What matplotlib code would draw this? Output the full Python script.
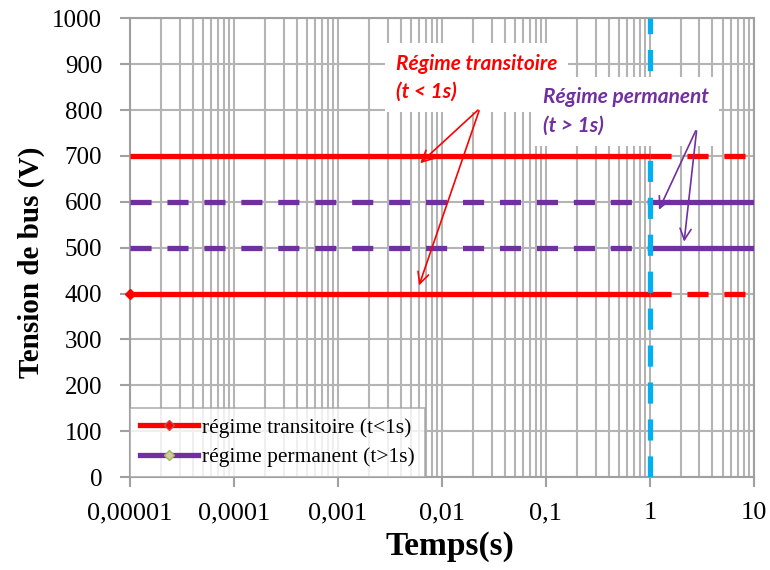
import numpy as np
import matplotlib.pyplot as plt
from matplotlib.ticker import FixedLocator, LogLocator, NullFormatter

# time ranges (s)
t_trans = [1e-5, 1]
t_perm = [1, 10]

# bus voltage levels (V)
red_high = 700
red_low = 400
purple_high = 600
purple_low = 500

x_ticks = [1e-5, 1e-4, 1e-3, 1e-2, 1e-1, 1, 10]
x_labels = ["0,00001", "0,0001", "0,001", "0,01", "0,1", "1", "10"]
y_ticks = list(range(0, 1001, 100))

RED = "#ff0000"
PURPLE = "#7030a0"
BLUE = "#00b0f0"
GRID = "#b4b4b4"

plt.rcParams["font.family"] = ["Liberation Serif", "DejaVu Serif"]

fig = plt.figure(figsize=(7.7, 5.7), dpi=100)
ax = fig.add_axes([0.169, 0.163, 0.81, 0.805])

ax.set_xscale("log")
ax.set_xlim(1e-5, 10)
ax.set_ylim(0, 1000)

ax.xaxis.set_major_locator(FixedLocator(x_ticks))
ax.set_xticklabels(x_labels)
ax.xaxis.set_minor_locator(LogLocator(base=10, subs=np.arange(2, 10)))
ax.xaxis.set_minor_formatter(NullFormatter())
ax.set_yticks(y_ticks)

ax.grid(True, which="major", color=GRID, lw=1.5)
ax.grid(True, which="minor", axis="x", color=GRID, lw=1.5)
ax.set_axisbelow(True)

for side in ["left", "bottom", "right", "top"]:
    ax.spines[side].set_color("#a0a0a0")
    ax.spines[side].set_linewidth(1.5)
ax.tick_params(axis="both", which="major", length=7, width=1.5, color="#a0a0a0",
               direction="out")
ax.tick_params(axis="x", which="major", pad=11, labelsize=19)
ax.tick_params(axis="y", which="major", pad=13, labelsize=18)
ax.tick_params(axis="x", which="minor", length=0)

lw = 3.8
dash = (0, (4, 3))

# red series
ax.plot(t_trans, [red_high] * 2, color=RED, lw=lw, solid_capstyle="butt", zorder=3)
ax.plot(t_perm, [red_high] * 2, color=RED, lw=lw, ls=dash, zorder=3)
ax.plot(t_trans, [red_low] * 2, color=RED, lw=lw, solid_capstyle="butt", zorder=3)
ax.plot(t_perm, [red_low] * 2, color=RED, lw=lw, ls=dash, zorder=3)
ax.plot([t_trans[0]], [red_low], marker="D", color=RED, ms=5, clip_on=False, zorder=4)

# purple series
ax.plot(t_trans, [purple_high] * 2, color=PURPLE, lw=lw, ls=dash, zorder=3)
ax.plot(t_perm, [purple_high] * 2, color=PURPLE, lw=lw, solid_capstyle="butt", zorder=3)
ax.plot(t_trans, [purple_low] * 2, color=PURPLE, lw=lw, ls=dash, zorder=3)
ax.plot(t_perm, [purple_low] * 2, color=PURPLE, lw=lw, solid_capstyle="butt", zorder=3)

# switching instant
ax.axvline(1, color=BLUE, lw=3.8, ls=(0, (4, 3)), zorder=4)

# legend proxies
ax.plot([], [], color=RED, lw=lw, marker="D", ms=5.5, mfc=RED, mec="#c0504d",
        label="régime transitoire (t<1s)")
ax.plot([], [], color=PURPLE, lw=lw, marker="D", ms=5.5, mfc="#d9c9a3", mec="#9bbb59",
        label="régime permanent (t>1s)")
leg = ax.legend(loc="lower left", fontsize=15.5, frameon=True, fancybox=False,
                borderaxespad=0, handlelength=2.7, labelspacing=0.45,
                borderpad=0.45, handletextpad=0.2)
leg.get_frame().set_edgecolor("#a0a0a0")
leg.get_frame().set_linewidth(1.2)
leg.set_zorder(6)

# annotations
box = dict(boxstyle="square,pad=0.5", fc="white", ec="none")
ann_font = dict(family=["Lato", "DejaVu Sans"], weight="bold", style="italic", fontsize=15)

ax.text(0.0036, 870, "Régime transitoire\n(t < 1s)", color=RED, ha="left", va="center",
        linespacing=1.5, bbox=box, zorder=5, **ann_font)
ax.text(0.093, 797, "Régime permanent\n(t > 1s)", color=PURPLE, ha="left", va="center",
        linespacing=1.5, bbox=box, zorder=5, **ann_font)

arrow_red = dict(arrowstyle="->,head_length=0.8,head_width=0.4", color=RED, lw=1.2)
arrow_purple = dict(arrowstyle="->,head_length=0.8,head_width=0.4", color=PURPLE, lw=1.2)
ax.annotate("", xy=(0.0059, 680), xytext=(0.0232, 804), arrowprops=arrow_red, zorder=6)
ax.annotate("", xy=(0.0059, 412), xytext=(0.0232, 804), arrowprops=arrow_red, zorder=6)
ax.annotate("", xy=(1.19, 577), xytext=(2.83, 760), arrowprops=arrow_purple, zorder=6)
ax.annotate("", xy=(2.12, 507), xytext=(2.83, 760), arrowprops=arrow_purple, zorder=6)

ax.set_xlabel("Temps(s)", fontsize=24, fontweight="bold")
ax.set_ylabel("Tension de bus (V)", fontsize=21, fontweight="bold")
ax.xaxis.set_label_coords(0.513, -0.118)
ax.yaxis.set_label_coords(-0.137, 0.468)

fig.savefig("out.png", dpi=100)
